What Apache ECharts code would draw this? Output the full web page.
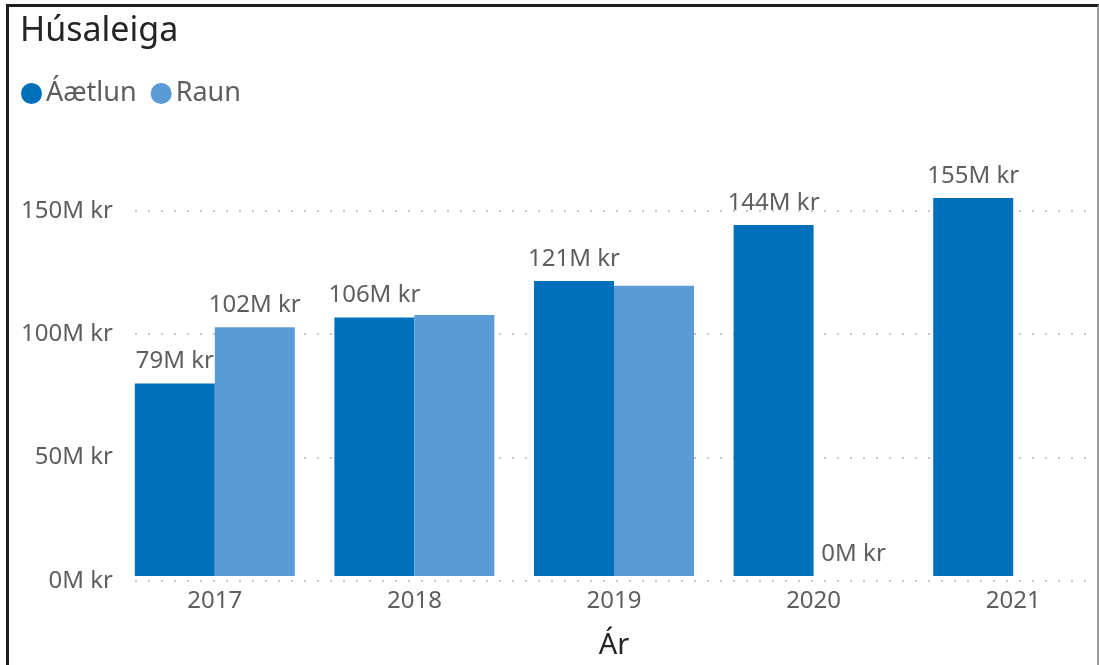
<!DOCTYPE html>
<html>
<head>
<meta charset="utf-8">
<script src="https://cdn.jsdelivr.net/npm/echarts@6/dist/echarts.min.js"></script>
<style>
  html, body { margin: 0; padding: 0; background: #fff; overflow: hidden; }
  #wrap { position: relative; width: 1099px; height: 665px; overflow: hidden; }
  #chart { position: absolute; left: 0; top: 0; width: 1140px; height: 665px; }
  #frame { position: absolute; left: 6px; top: 4px; width: 1088px; height: 700px;
           border-left: 3px solid #1e1e1e; border-top: 3px solid #1e1e1e; border-right: 2px solid #9a9a9a;
           pointer-events: none; }
  #mask { position: absolute; left: 1096px; top: 0; width: 10px; height: 665px; background: #fff; }
</style>
</head>
<body>
<div id="wrap">
  <div id="chart"></div>
  <div id="mask"></div>
  <div id="frame"></div>
</div>
<script>
const titleText = 'Húsaleiga';
const axisTitle = 'Ár';
const categories = ['2017', '2018', '2019', '2020', '2021'];
const seriesNames = ['Áætlun', 'Raun'];
const aaetlun = [79, 106, 121, 144, 155];
const raun = [102, 107, 119, 0, null];
const raunLabelShown = [true, false, false, true, false];
const yTicks = [0, 50, 100, 150];

const fontFam = '"Noto Sans", "Open Sans", sans-serif';
const fmt = v => Math.round(v) + 'M kr';

const chart = echarts.init(document.getElementById('chart'));
const gridTop = 161.5, gridBottom = 84;
chart.setOption({
  animation: false,
  title: {
    text: titleText, left: 15, top: 9,
    textStyle: { fontFamily: fontFam, fontSize: 34, fontWeight: 'normal', color: '#252423' }
  },
  legend: {
    left: 16, top: 75, icon: 'circle', itemWidth: 21, itemHeight: 21, itemGap: 14,
    textStyle: { fontFamily: fontFam, fontSize: 27, color: '#605E5C', padding: [0, 0, 0, -1] },
    data: seriesNames
  },
  grid: [
    { left: 115, width: 998, top: gridTop, bottom: gridBottom, containLabel: false },
    { left: 135, width: 958, top: gridTop, bottom: gridBottom, containLabel: false }
  ],
  xAxis: [
    {
      type: 'category', gridIndex: 0, data: categories,
      axisLine: { show: false }, axisTick: { show: false },
      axisLabel: { fontFamily: fontFam, fontSize: 24, color: '#605E5C', margin: 13 },
      name: axisTitle, nameLocation: 'middle', nameGap: 55,
      nameTextStyle: { fontFamily: fontFam, fontSize: 29, color: '#252423' }
    },
    { type: 'value', gridIndex: 1, min: 0, max: 1, show: false }
  ],
  yAxis: [
    {
      type: 'value', gridIndex: 0, min: 0, max: 170, interval: 50,
      axisLine: { show: false }, axisTick: { show: false }, splitLine: { show: false },
      axisLabel: { show: false }
    },
    {
      type: 'value', gridIndex: 1, min: 0, max: 170, interval: 50,
      axisLine: { show: false }, axisTick: { show: false },
      axisLabel: {
        fontFamily: fontFam, fontSize: 24, color: '#605E5C', margin: 22, showMaxLabel: false,
        formatter: v => (yTicks.indexOf(v) >= 0 ? v + 'M kr' : '')
      },
      splitLine: { show: true, showMaxLine: false, lineStyle: { color: '#c8c8c8', width: 2, type: [2, 11] } }
    }
  ],
  series: [
    {
      name: seriesNames[0], type: 'bar', xAxisIndex: 0, yAxisIndex: 0,
      data: aaetlun, barWidth: 80, barGap: '0%', itemStyle: { color: '#0070BA' }, z: 3,
      label: { show: true, position: 'top', distance: 10, formatter: p => fmt(p.value),
               fontFamily: fontFam, fontSize: 24, color: '#605E5C' }
    },
    {
      name: seriesNames[1], type: 'bar', xAxisIndex: 0, yAxisIndex: 0,
      data: raun.map((v, i) => ({ value: v, label: { show: raunLabelShown[i] } })),
      barWidth: 80, barGap: '0%', itemStyle: { color: '#5B9BD5' }, z: 3,
      label: { show: true, position: 'top', distance: 10, formatter: p => fmt(p.value),
               fontFamily: fontFam, fontSize: 24, color: '#605E5C' }
    }
  ]
});
</script>
</body>
</html>
